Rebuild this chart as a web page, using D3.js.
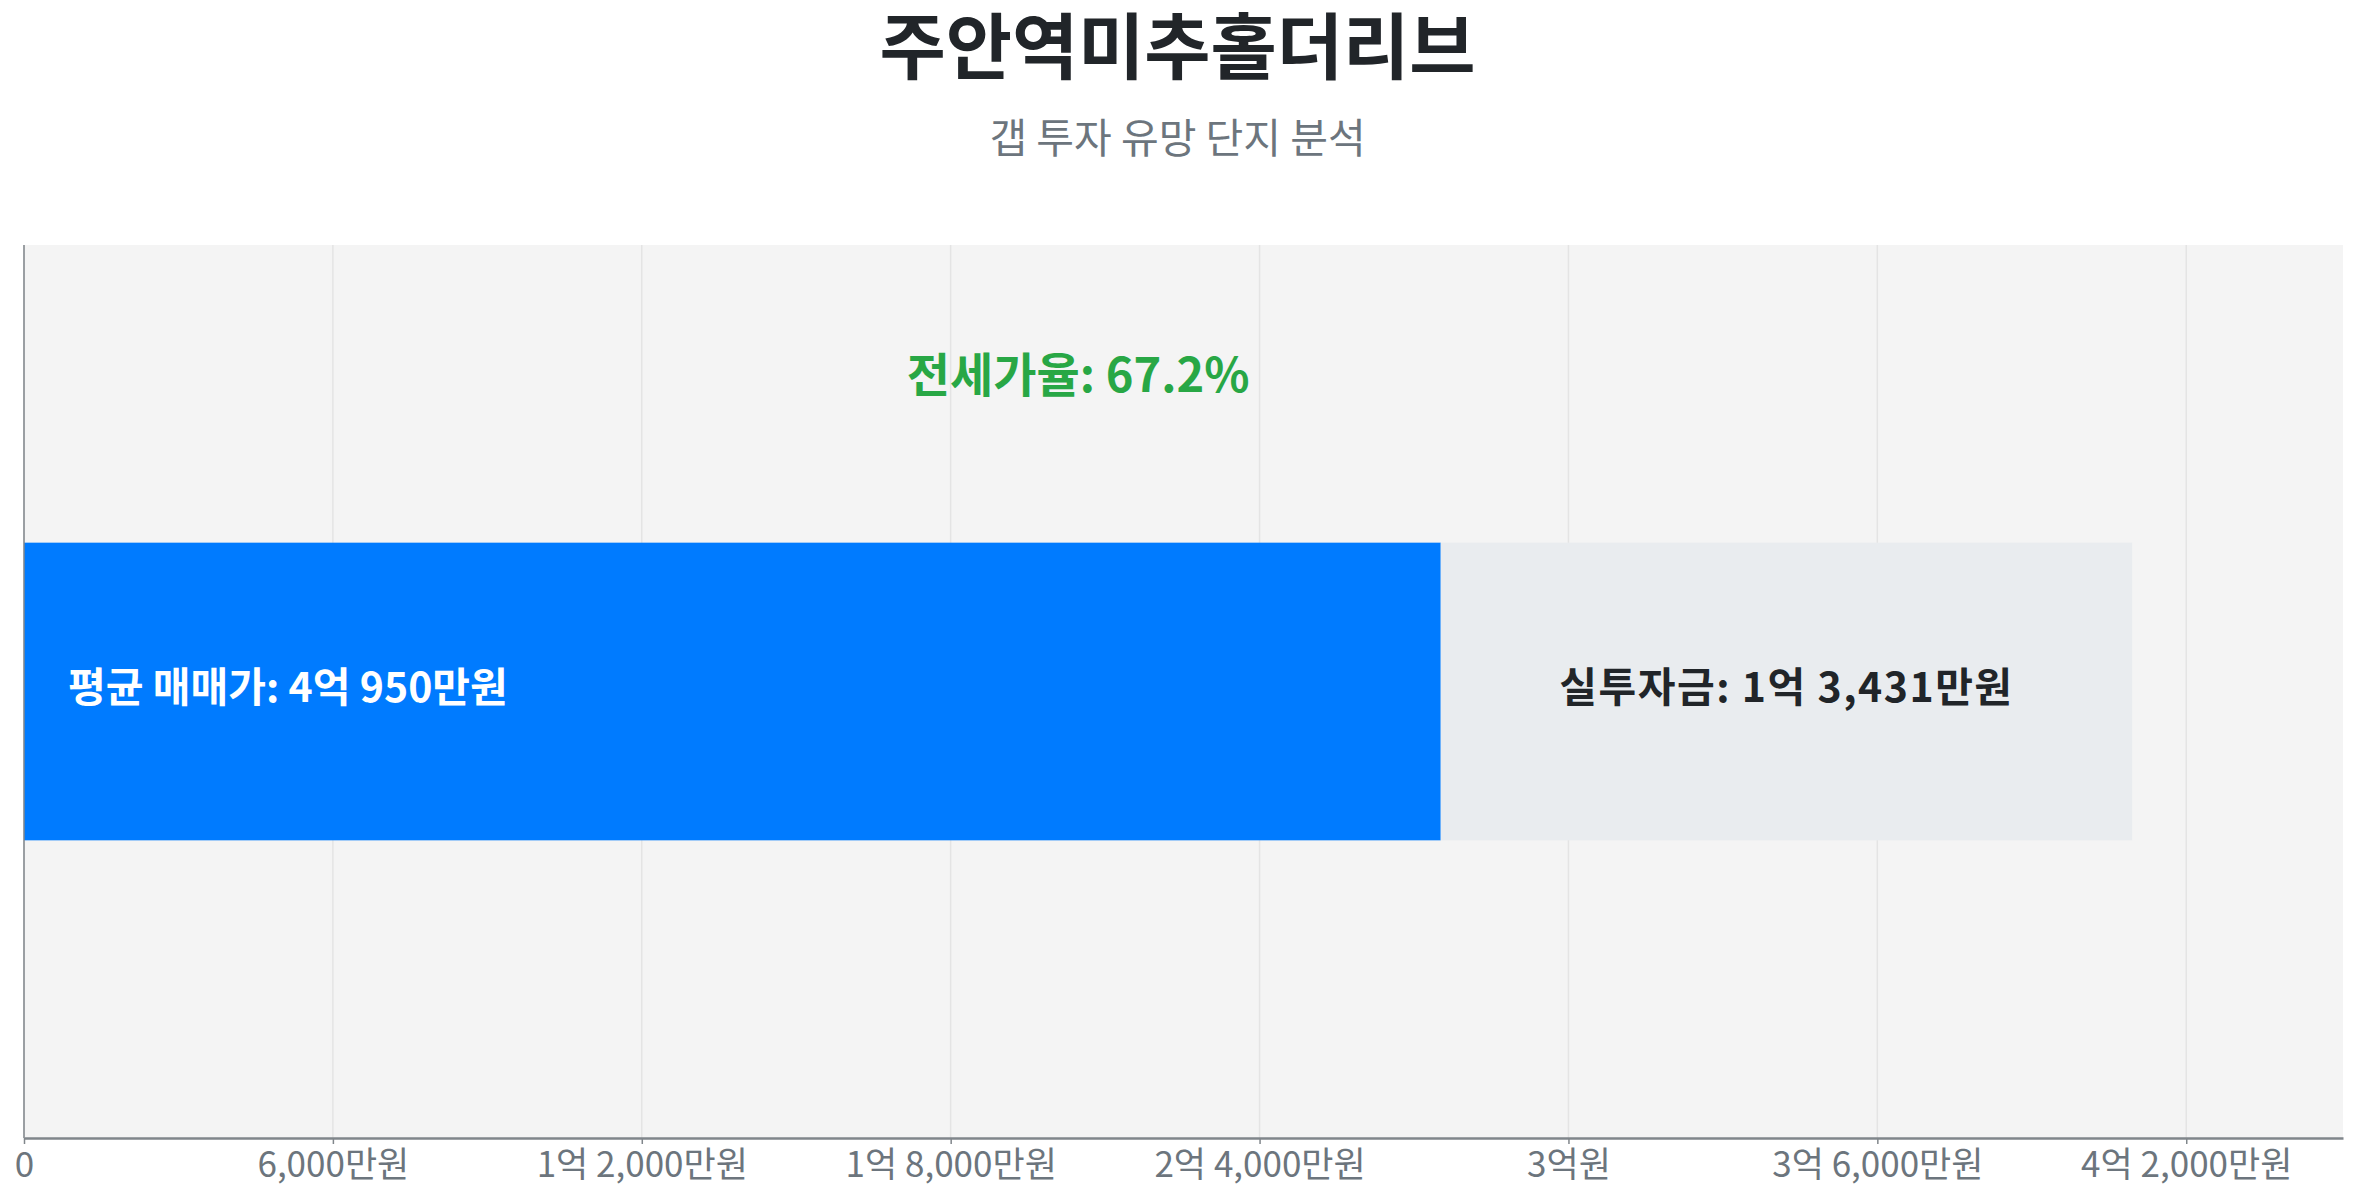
<!DOCTYPE html>
<html>
<head>
<meta charset="utf-8">
<script src="https://cdn.jsdelivr.net/npm/d3@7"></script>
<style>
    body { margin: 0; background: #fff; }
    text { font-family: "Noto Sans CJK KR", "Noto Sans", sans-serif; }
</style>
</head>
<body>
<script>

// data, all money values in 만원
const complexNames = ['주안역미추홀더리브']
const salePrices = [40950]      // 평균 매매가
const jeonsePrices = [27519]    // 평균 전세가
const gapAmounts = [13431]      // 실투자금
const jeonseRates = [67.2]      // 전세가율 (%)
const tickValues = [0, 6000, 12000, 18000, 24000, 30000, 36000, 42000]

// measurements for our viz
const m = {
    width: 2357,
    height: 1200,
    left: 24,
    right: 14,
    top: 245,
    bottom: 62
}

// 만원 -> "1억 2,000만원" style text
function won(v) {
    if (v === 0) return '0'
    const eok = Math.floor(v / 10000)
    const rest = v % 10000
    if (eok === 0) return `${d3.format(',')(rest)}만원`
    if (rest === 0) return `${eok}억원`
    return `${eok}억 ${d3.format(',')(rest)}만원`
}

const svg = d3.select('body').append('svg')
    .attr('width', m.width)
    .attr('height', m.height)

// title + subtitle
svg.append('text')
    .attr('x', m.width / 2 - 1)
    .attr('y', 73)
    .attr('text-anchor', 'middle')
    .attr('font-size', 72)
    .attr('font-weight', 700)
    .attr('fill', '#212529')
    .text(complexNames[0])

svg.append('text')
    .attr('x', m.width / 2 - 1)
    .attr('y', 153)
    .attr('text-anchor', 'middle')
    .attr('font-size', 41)
    .attr('fill', '#6c757d')
    .text('갭 투자 유망 단지 분석')

// scales
const xScale = d3.scaleLinear()
    .domain([0, d3.max(salePrices) * 1.1])
    .range([m.left, m.width - m.right])

const yScale = d3.scaleBand()
    .domain(complexNames)
    .range([m.top, m.height - m.bottom])
    .padding(0.5)

// plot background
svg.append('rect')
    .attr('x', xScale.range()[0])
    .attr('y', m.top)
    .attr('width', xScale.range()[1] - xScale.range()[0])
    .attr('height', m.height - m.bottom - m.top)
    .attr('fill', '#f4f4f4')

// vertical grid
svg.append('g')
    .selectAll('line')
    .data(tickValues)
    .join('line')
    .attr('x1', d => xScale(d))
    .attr('x2', d => xScale(d))
    .attr('y1', m.top)
    .attr('y2', m.height - m.bottom)
    .attr('stroke', '#e4e4e4')
    .attr('stroke-width', 1.5)

// stacked bar: 전세가 + 실투자금
const rows = complexNames.map((name, i) => ({
    name: name,
    jeonse: jeonsePrices[i],
    gap: gapAmounts[i],
    sale: salePrices[i],
    rate: jeonseRates[i]
}))

svg.selectAll('rect.jeonse')
    .data(rows)
    .join('rect')
    .attr('class', 'jeonse')
    .attr('x', xScale(0))
    .attr('y', d => yScale(d.name))
    .attr('width', d => xScale(d.jeonse) - xScale(0))
    .attr('height', yScale.bandwidth())
    .attr('fill', '#007bff')

svg.selectAll('rect.gap')
    .data(rows)
    .join('rect')
    .attr('class', 'gap')
    .attr('x', d => xScale(d.jeonse))
    .attr('y', d => yScale(d.name))
    .attr('width', d => xScale(d.jeonse + d.gap) - xScale(d.jeonse))
    .attr('height', yScale.bandwidth())
    .attr('fill', '#e9ecef')

// bar labels
svg.selectAll('text.sale')
    .data(rows)
    .join('text')
    .attr('class', 'sale')
    .attr('x', xScale(0) + 44)
    .attr('y', d => yScale(d.name) + yScale.bandwidth() / 2)
    .attr('dy', '0.26em')
    .attr('font-size', 41)
    .attr('font-weight', 700)
    .attr('fill', '#fff')
    .text(d => `평균 매매가: ${won(d.sale)}`)

svg.selectAll('text.gap')
    .data(rows)
    .join('text')
    .attr('class', 'gap')
    .attr('x', d => (xScale(d.jeonse) + xScale(d.jeonse + d.gap)) / 2)
    .attr('y', d => yScale(d.name) + yScale.bandwidth() / 2)
    .attr('dy', '0.26em')
    .attr('text-anchor', 'middle')
    .attr('font-size', 41)
    .attr('font-weight', 700)
    .attr('letter-spacing', 1.5)
    .attr('fill', '#212529')
    .text(d => `실투자금: ${won(d.gap)}`)

svg.selectAll('text.rate')
    .data(rows)
    .join('text')
    .attr('class', 'rate')
    .attr('x', d => (xScale(0) + xScale(d.sale)) / 2)
    .attr('y', d => yScale(d.name) - 151)
    .attr('text-anchor', 'middle')
    .attr('font-size', 47)
    .attr('font-weight', 700)
    .attr('fill', '#28a745')
    .text(d => `전세가율: ${d.rate}%`)

// axes
const xAxis = d3.axisBottom(xScale)
    .tickValues(tickValues)
    .tickFormat(won)
    .tickSize(6)
    .tickSizeOuter(0)
    .tickPadding(8)

const gx = svg.append('g')
    .attr('transform', `translate(0,${m.height - m.bottom})`)
    .call(xAxis)
gx.select('.domain').attr('stroke', '#80868b').attr('stroke-width', 2.5)
gx.selectAll('.tick line').attr('stroke', '#80868b').attr('stroke-width', 1.5)
gx.selectAll('.tick text')
    .attr('font-size', 35)
    .attr('font-family', '"Noto Sans CJK KR", sans-serif')
    .attr('fill', '#6c757d')

svg.append('line')
    .attr('x1', m.left)
    .attr('x2', m.left)
    .attr('y1', m.top)
    .attr('y2', m.height - m.bottom)
    .attr('stroke', '#80868b')
    .attr('stroke-width', 1.5)

</script>
</body>
</html>
